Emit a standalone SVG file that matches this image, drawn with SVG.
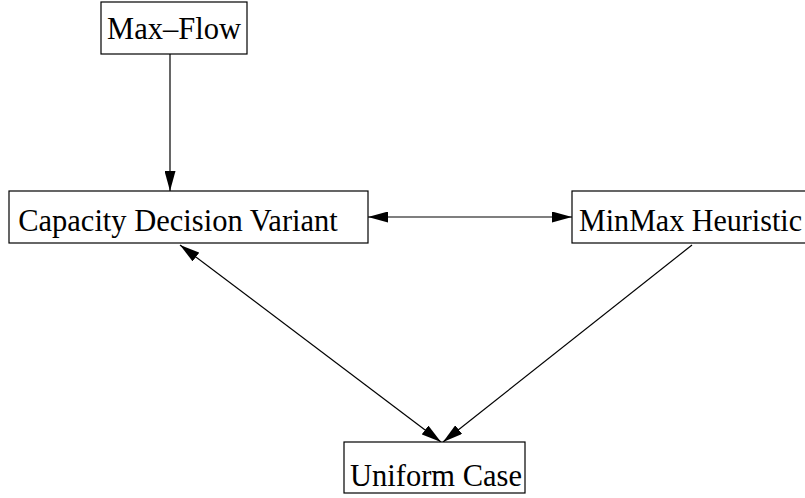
<svg xmlns="http://www.w3.org/2000/svg" width="805" height="498" viewBox="0 0 805 498">
<style>
.box{fill:#fff;stroke:#000;stroke-width:1.2}
.lbl{font-family:"Liberation Serif",serif;font-size:30.5px;fill:#000;text-anchor:middle}
.edge{stroke:#000;stroke-width:1.2;fill:none}
</style>
<defs>
<marker id="ah" viewBox="0 0 10 10" refX="10" refY="5" markerWidth="20" markerHeight="11" markerUnits="userSpaceOnUse" orient="auto-start-reverse" preserveAspectRatio="none">
<path d="M0,0 L10,5 L0,10 z" fill="#000"/>
</marker>
</defs>
<g id="connectors">
<line class="edge" x1="170" y1="54" x2="170" y2="191" marker-end="url(#ah)"/>
<line class="edge" x1="368" y1="217" x2="572" y2="217" marker-start="url(#ah)" marker-end="url(#ah)"/>
<line class="edge" x1="180" y1="245" x2="441" y2="442" marker-start="url(#ah)" marker-end="url(#ah)"/>
<line class="edge" x1="692" y1="245" x2="443" y2="442" marker-end="url(#ah)"/>
</g>
<g id="maxflow">
<rect class="box" x="101" y="2" width="146" height="52"/>
<text class="lbl" x="174" y="39">Max–Flow</text>
</g>
<g id="capacity">
<rect class="box" x="9" y="191" width="359" height="52"/>
<text class="lbl" x="178" y="231">Capacity Decision Variant</text>
</g>
<g id="minmax">
<rect class="box" x="572" y="191" width="240" height="52"/>
<text class="lbl" x="579" y="231" style="text-anchor:start" textLength="223" lengthAdjust="spacingAndGlyphs">MinMax Heuristic</text>
</g>
<g id="uniform">
<rect class="box" x="344" y="442" width="181" height="51"/>
<text class="lbl" x="436" y="486">Uniform Case</text>
</g>
</svg>
